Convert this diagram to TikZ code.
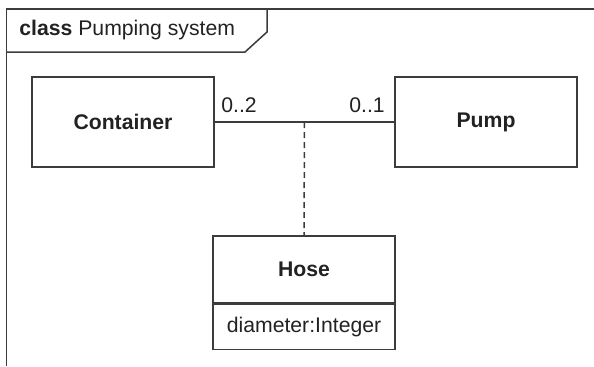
\documentclass[tikz,border=0pt]{standalone}
\usepackage{fontspec}
\setmainfont{Liberation Sans}
\usetikzlibrary{positioning}
\definecolor{umlline}{HTML}{3C3C3C}
\definecolor{umltext}{HTML}{222222}
\newcommand{\umlsize}{\fontsize{10.6}{12.7}\selectfont}
\tikzset{
  classbox/.style={draw=umlline, line width=0.75pt, minimum width=91pt, minimum height=45pt, inner sep=0pt, font=\umlsize\bfseries},
  attrbox/.style={draw=umlline, line width=0.75pt, minimum width=91pt, minimum height=22.5pt, inner sep=0pt, font=\umlsize},
  mult/.style={font=\umlsize, inner sep=0pt},
  assoc/.style={umlline, line width=0.75pt},
}

\begin{document}
\begin{tikzpicture}[x=0.5pt, y=-0.5pt, text=umltext]
    \useasboundingbox (0,0) rectangle (594,366);
    % frame and its tab
    \draw[assoc] (594,9) -- (6.5,9) -- (6.5,366);
    \draw[assoc] (6.5,52) -- (245,52) -- (267,32) -- (267,9);
    \node[anchor=west, inner sep=0pt, font=\umlsize] (title) at (19,30) {\textbf{class} Pumping system};

    \node[classbox] (container) at (123,122) {Container};
    \node[classbox] (pump) at (486,122) {Pump};
    \node[classbox, minimum height=33.5pt] (hose) at (304,269.5) {Hose};
    \node[attrbox, below=0pt of hose] (hoseattr) {diameter:Integer};

    \node[mult] (multc) at (239,105) {0..2};
    \node[mult] (multp) at (367,105) {0..1};

    \draw[assoc] (container.east) -- (pump.west) coordinate[midway] (assocmid);
    \draw[assoc, dash pattern=on 3pt off 2pt] (assocmid) -- (hose.north);
\end{tikzpicture}
\end{document}
